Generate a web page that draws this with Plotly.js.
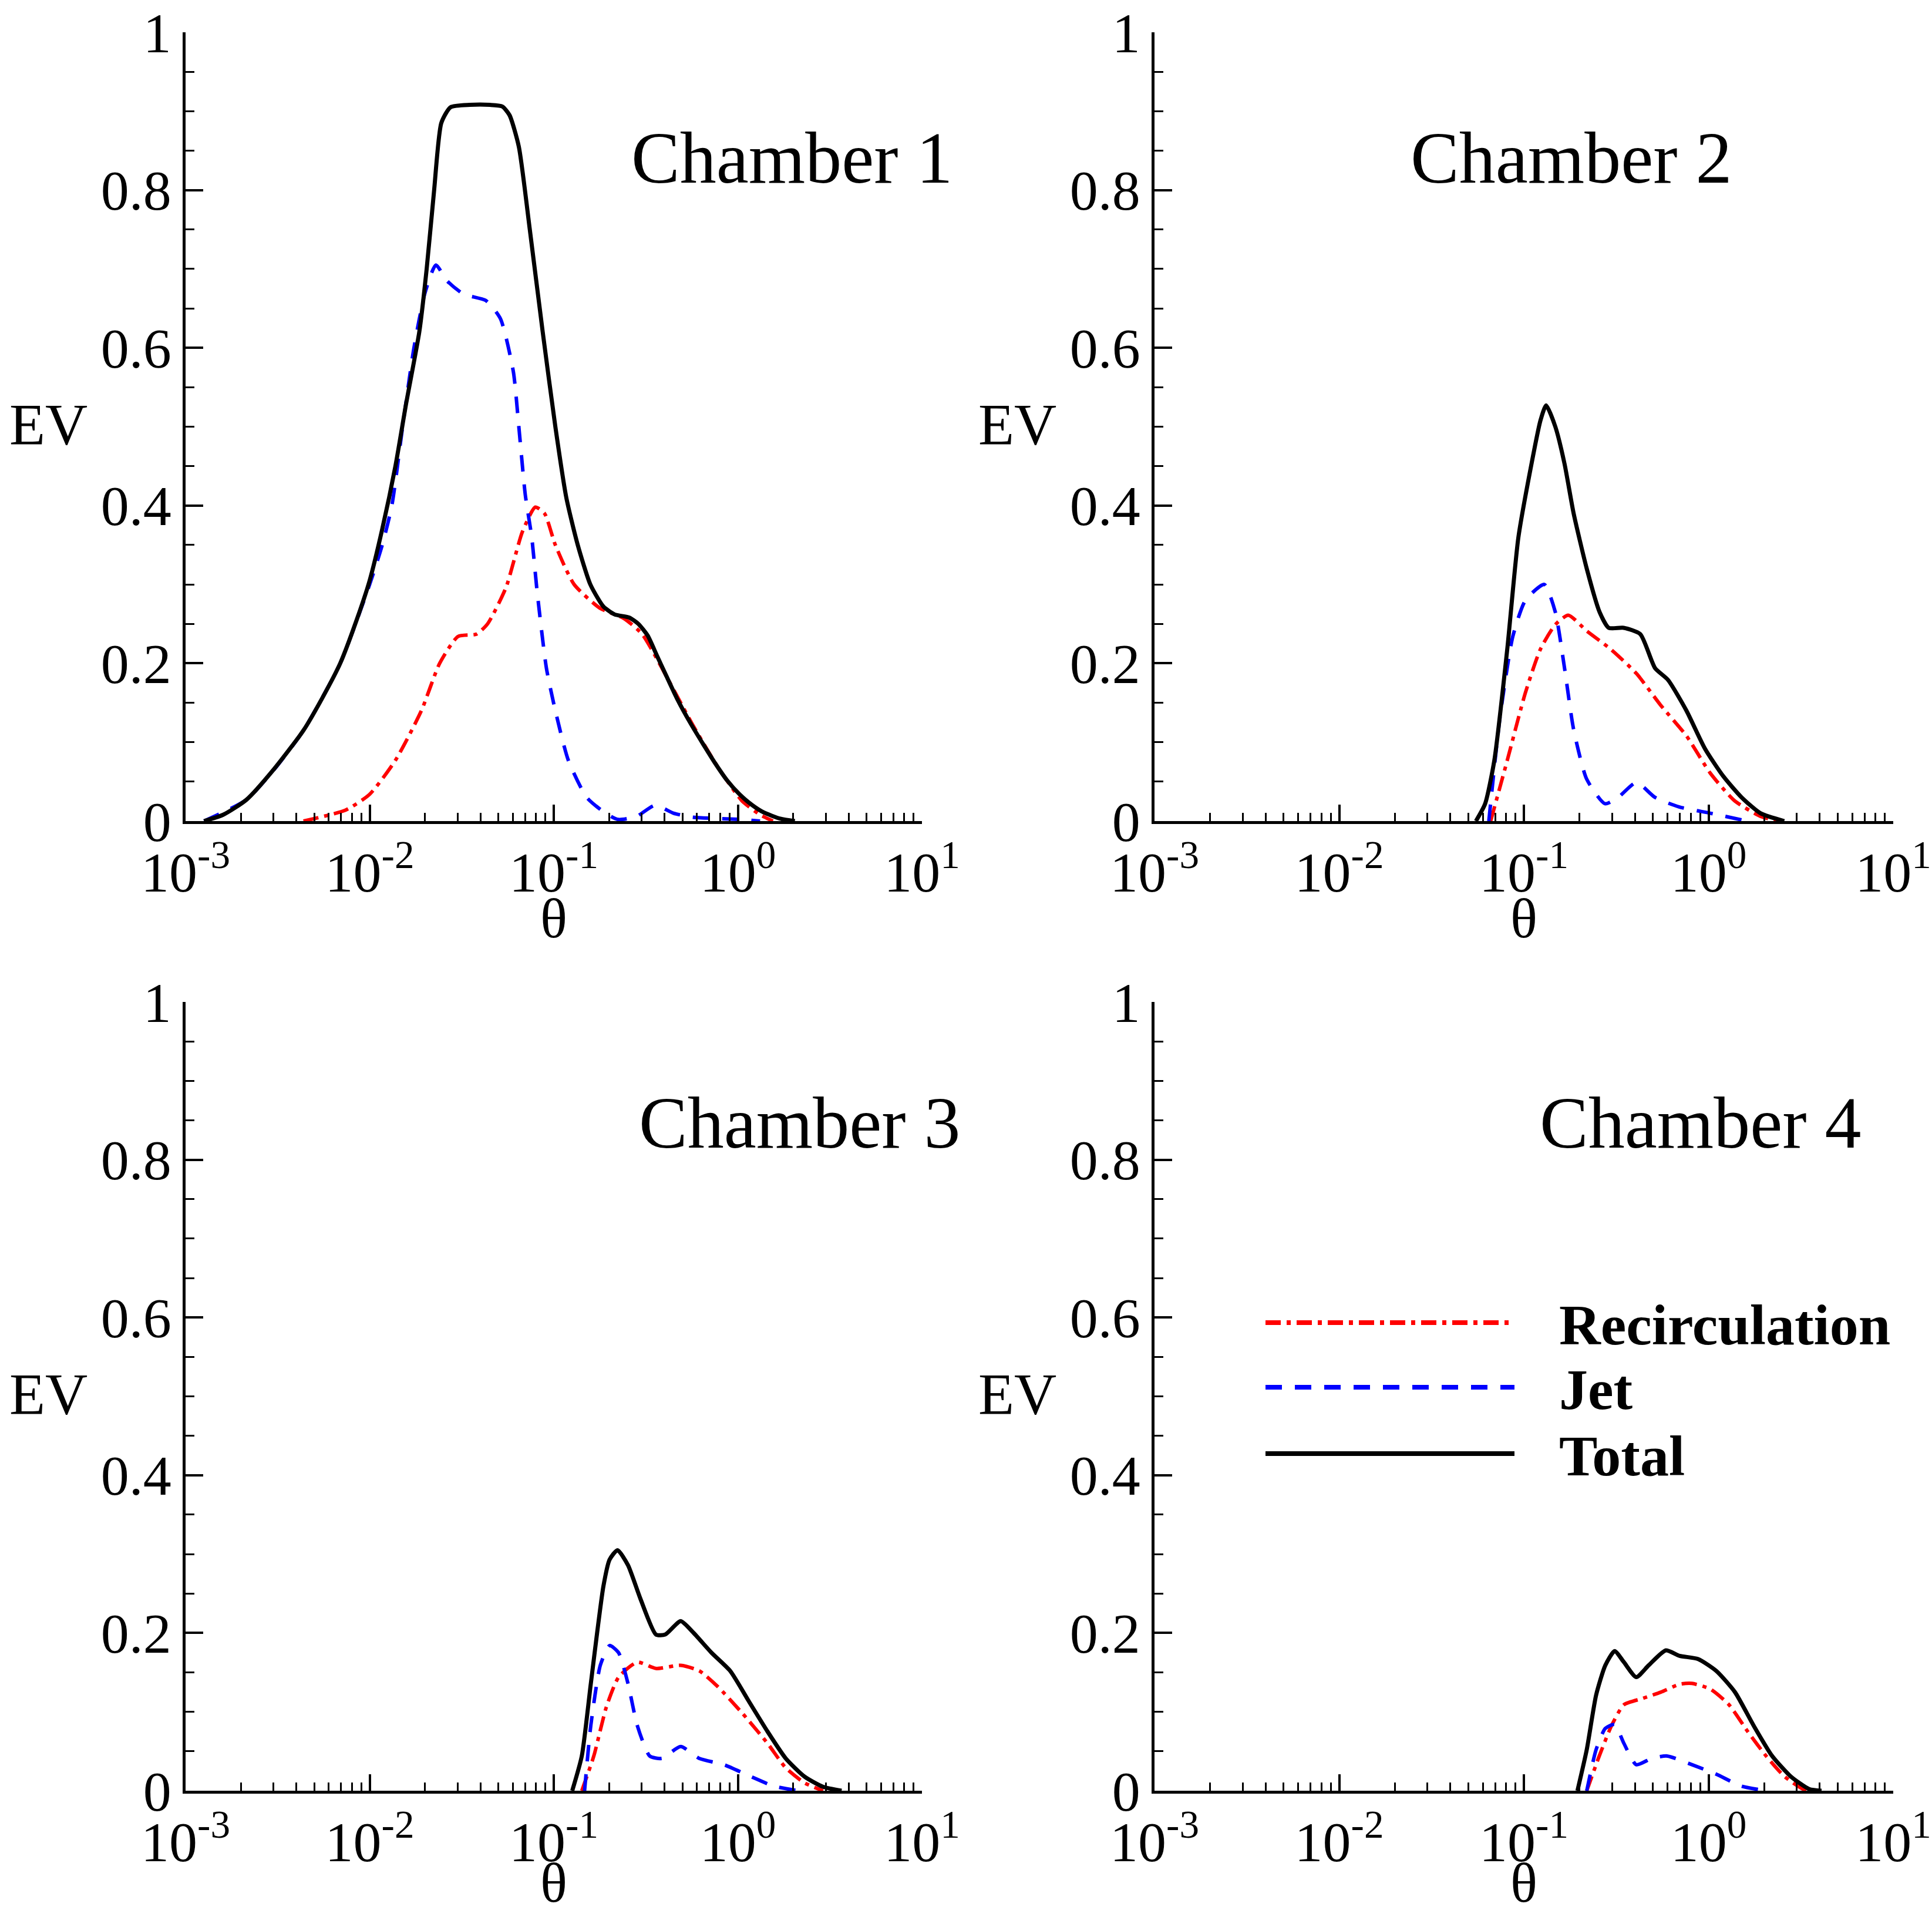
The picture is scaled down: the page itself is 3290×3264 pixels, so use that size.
<!DOCTYPE html>
<html>
<head>
<meta charset="utf-8">
<script src="https://cdn.plot.ly/plotly-3.0.1.min.js"></script>
<style>
  html, body { margin: 0; padding: 0; background: #fff; }
  #chart { width: 3290px; height: 3264px; }
</style>
</head>
<body>
<div id="chart"></div>
<script>
// ---- data (theta, EV) ----
const ch1TotalTheta = [0.00126, 0.0016, 0.00214, 0.003, 0.00437, 0.0055, 0.00692, 0.0085, 0.0100, 0.0117, 0.0138, 0.0158, 0.0186, 0.0204, 0.0224, 0.0245, 0.0275, 0.035, 0.045, 0.0525, 0.0575, 0.0646, 0.0741, 0.0871, 0.102, 0.117, 0.135, 0.158, 0.186, 0.214, 0.257, 0.288, 0.324, 0.363, 0.407, 0.468, 0.550, 0.646, 0.759, 0.871, 1.02, 1.20, 1.38, 1.70, 2.04];
const ch1TotalEV    = [0, 0.008, 0.027, 0.065, 0.115, 0.155, 0.20, 0.255, 0.305, 0.37, 0.45, 0.53, 0.62, 0.70, 0.80, 0.885, 0.905, 0.908, 0.908, 0.906, 0.895, 0.855, 0.75, 0.62, 0.50, 0.41, 0.35, 0.30, 0.272, 0.262, 0.258, 0.25, 0.235, 0.21, 0.185, 0.155, 0.125, 0.098, 0.072, 0.052, 0.034, 0.02, 0.011, 0.003, 0];

const ch1JetTheta = [0.00126, 0.00214, 0.00302, 0.00437, 0.00692, 0.0100, 0.0117, 0.0132, 0.0151, 0.0174, 0.0200, 0.0229, 0.0263, 0.0324, 0.0427, 0.0513, 0.0603, 0.0646, 0.0700, 0.0759, 0.0813, 0.0912, 0.102, 0.120, 0.151, 0.191, 0.224, 0.282, 0.355, 0.447, 0.562, 1.05, 1.32];
const ch1JetEV    = [0, 0.027, 0.065, 0.115, 0.20, 0.30, 0.35, 0.40, 0.50, 0.60, 0.67, 0.705, 0.685, 0.668, 0.66, 0.637, 0.57, 0.50, 0.414, 0.36, 0.29, 0.194, 0.14, 0.077, 0.03, 0.01, 0.002, 0.006, 0.02, 0.01, 0.005, 0.002, 0];

const ch1RecTheta = [0.00437, 0.00741, 0.0100, 0.0138, 0.0191, 0.0240, 0.0302, 0.0380, 0.0437, 0.0550, 0.0676, 0.0794, 0.0891, 0.102, 0.129, 0.178, 0.240, 0.302, 0.417, 0.562, 0.776, 1.05, 1.32, 1.55];
const ch1RecEV    = [0, 0.014, 0.034, 0.077, 0.14, 0.20, 0.234, 0.237, 0.25, 0.296, 0.367, 0.398, 0.39, 0.35, 0.30, 0.27, 0.257, 0.237, 0.18, 0.124, 0.069, 0.026, 0.008, 0];

const ch2TotalTheta = [0.055, 0.0617, 0.0692, 0.0813, 0.0933, 0.110, 0.123, 0.132, 0.148, 0.166, 0.186, 0.219, 0.257, 0.288, 0.347, 0.427, 0.513, 0.603, 0.759, 0.955, 1.20, 1.51, 1.91, 2.57];
const ch2TotalEV    = [0, 0.022, 0.077, 0.218, 0.359, 0.453, 0.508, 0.527, 0.50, 0.453, 0.39, 0.32, 0.265, 0.245, 0.245, 0.237, 0.194, 0.179, 0.14, 0.092, 0.057, 0.03, 0.01, 0];

const ch2JetTheta = [0.0646, 0.0741, 0.0871, 0.102, 0.129, 0.148, 0.166, 0.186, 0.219, 0.275, 0.324, 0.407, 0.513, 0.692, 1.02, 1.62];
const ch2JetEV    = [0, 0.13, 0.234, 0.28, 0.30, 0.265, 0.194, 0.116, 0.053, 0.022, 0.03, 0.049, 0.03, 0.018, 0.01, 0];

const ch2RecTheta = [0.0661, 0.0813, 0.102, 0.123, 0.148, 0.174, 0.219, 0.295, 0.407, 0.550, 0.759, 1.02, 1.38, 1.91, 2.40];
const ch2RecEV    = [0, 0.077, 0.163, 0.218, 0.249, 0.261, 0.241, 0.218, 0.187, 0.147, 0.108, 0.061, 0.026, 0.006, 0];

const ch3TotalTheta = [0.126, 0.142, 0.159, 0.186, 0.201, 0.222, 0.253, 0.296, 0.359, 0.403, 0.489, 0.570, 0.719, 0.908, 1.15, 1.45, 1.82, 2.30, 2.90, 3.66];
const ch3TotalEV    = [0, 0.044, 0.136, 0.259, 0.293, 0.305, 0.286, 0.243, 0.198, 0.198, 0.215, 0.201, 0.175, 0.152, 0.113, 0.075, 0.041, 0.018, 0.005, 0];

const ch3JetTheta = [0.147, 0.159, 0.179, 0.201, 0.225, 0.253, 0.284, 0.332, 0.387, 0.489, 0.617, 0.840, 1.15, 1.56, 2.13];
const ch3JetEV    = [0, 0.083, 0.159, 0.184, 0.175, 0.136, 0.083, 0.044, 0.041, 0.056, 0.041, 0.033, 0.019, 0.006, 0];

const ch3RecTheta = [0.142, 0.165, 0.193, 0.225, 0.284, 0.359, 0.489, 0.617, 0.778, 1.06, 1.45, 1.82, 2.30, 2.90];
const ch3RecEV    = [0, 0.044, 0.106, 0.144, 0.163, 0.155, 0.159, 0.152, 0.132, 0.098, 0.060, 0.029, 0.01, 0];

const ch4TotalTheta = [0.195, 0.219, 0.246, 0.276, 0.310, 0.348, 0.406, 0.474, 0.587, 0.697, 0.877, 1.10, 1.39, 1.75, 2.21, 2.79, 3.51, 4.09];
const ch4TotalEV    = [0, 0.052, 0.121, 0.159, 0.177, 0.163, 0.144, 0.159, 0.178, 0.171, 0.167, 0.152, 0.125, 0.083, 0.044, 0.018, 0.002, 0];

const ch4JetTheta = [0.219, 0.246, 0.276, 0.310, 0.348, 0.406, 0.492, 0.597, 0.813, 1.10, 1.50, 2.05];
const ch4JetEV    = [0, 0.052, 0.079, 0.084, 0.060, 0.033, 0.041, 0.044, 0.033, 0.021, 0.006, 0];

const ch4RecTheta = [0.219, 0.256, 0.299, 0.348, 0.439, 0.552, 0.697, 0.813, 1.02, 1.29, 1.63, 2.05, 2.58, 3.25, 3.51];
const ch4RecEV    = [0, 0.044, 0.083, 0.109, 0.117, 0.125, 0.135, 0.136, 0.129, 0.109, 0.075, 0.044, 0.018, 0.002, 0];

const chamberNames = ['Chamber 1', 'Chamber 2', 'Chamber 3', 'Chamber 4'];
const seriesNames = ['Recirculation', 'Jet', 'Total'];
const xTickVals = [0.001, 0.01, 0.1, 1, 10];
const xTickText = ['10<sup>-3</sup>', '10<sup>-2</sup>', '10<sup>-1</sup>', '10<sup>0</sup>', '10<sup>1</sup>'];
const yTickVals = [0, 0.2, 0.4, 0.6, 0.8, 1];
const yTickText = ['0', '0.2', '0.4', '0.6', '0.8', '1'];
const xMinorVals = [0.002, 0.003, 0.004, 0.005, 0.006, 0.007, 0.008, 0.009,
                    0.02, 0.03, 0.04, 0.05, 0.06, 0.07, 0.08, 0.09,
                    0.2, 0.3, 0.4, 0.5, 0.6, 0.7, 0.8, 0.9,
                    2, 3, 4, 5, 6, 7, 8, 9];

// ---- styles ----
const FONT = 'Liberation Serif, Times New Roman, serif';
const STYLE = {
    Recirculation: { color: '#ff0000', width: 6, dash: '26px,10px,7px,10px' },
    Jet:           { color: '#0000ff', width: 6, dash: '28px,22px' },
    Total:         { color: '#000000', width: 7, dash: 'solid' }
};

const chambers = [
    { rec: [ch1RecTheta, ch1RecEV], jet: [ch1JetTheta, ch1JetEV], tot: [ch1TotalTheta, ch1TotalEV] },
    { rec: [ch2RecTheta, ch2RecEV], jet: [ch2JetTheta, ch2JetEV], tot: [ch2TotalTheta, ch2TotalEV] },
    { rec: [ch3RecTheta, ch3RecEV], jet: [ch3JetTheta, ch3JetEV], tot: [ch3TotalTheta, ch3TotalEV] },
    { rec: [ch4RecTheta, ch4RecEV], jet: [ch4JetTheta, ch4JetEV], tot: [ch4TotalTheta, ch4TotalEV] }
];

// plot-area domains measured in px on the 3290x3264 picture
const W = 3290, H = 3264;
const colX = [[316, 1570], [1966, 3224]];
const rowY = [[55, 1398], [1706, 3049]];

const traces = [];
const layout = {
    width: W, height: H,
    margin: { l: 0, r: 0, t: 0, b: 0 },
    paper_bgcolor: '#fff', plot_bgcolor: '#fff',
    font: { family: FONT, color: '#000', size: 96 },
    showlegend: false,
    annotations: [],
    shapes: []
};

chambers.forEach((c, i) => {
    const n = i + 1;
    const xa = n === 1 ? 'x' : 'x' + n;
    const ya = n === 1 ? 'y' : 'y' + n;
    const col = colX[i % 2], row = rowY[Math.floor(i / 2)];

    [['Recirculation', c.rec], ['Jet', c.jet], ['Total', c.tot]].forEach(([name, d]) => {
        traces.push({
            x: d[0], y: d[1], name: name, xaxis: xa, yaxis: ya,
            type: 'scatter', mode: 'lines',
            line: { ...STYLE[name], shape: 'spline', smoothing: 0.6 },
            hoverinfo: 'skip'
        });
    });

    layout['xaxis' + (n === 1 ? '' : n)] = {
        type: 'log', range: [-3, 1], domain: [col[0] / W, col[1] / W], anchor: ya,
        showline: true, linewidth: 5, linecolor: '#000', mirror: false,
        showgrid: false, zeroline: false,
        ticks: 'inside', ticklen: 28, tickwidth: 4, tickcolor: '#000',
        tickmode: 'array', tickvals: xTickVals, ticktext: xTickText,
        tickfont: { family: FONT, size: 96, color: '#000' },
        minor: { ticks: 'inside', ticklen: 14, tickwidth: 3, tickcolor: '#000', tickmode: 'array', tickvals: xMinorVals, showgrid: false },
        fixedrange: true
    };
    layout['yaxis' + (n === 1 ? '' : n)] = {
        range: [0, 1], domain: [1 - row[1] / H, 1 - row[0] / H], anchor: xa,
        showline: true, linewidth: 5, linecolor: '#000', mirror: false,
        showgrid: false, zeroline: false,
        ticks: 'inside', ticklen: 30, tickwidth: 4, tickcolor: '#000',
        tickmode: 'array', tickvals: yTickVals, ticktext: yTickText,
        tickfont: { family: FONT, size: 96, color: '#000' },
        minor: { ticks: 'inside', ticklen: 15, tickwidth: 3, tickcolor: '#000', dtick: 0.05, tick0: 0, showgrid: false },
        fixedrange: true
    };

    // axis labels (horizontal EV, theta) and chamber name
    layout.annotations.push(
        { text: 'EV', xref: xa + ' domain', yref: ya + ' domain', x: 0, y: 0.5, xshift: -234, yshift: 4,
          showarrow: false, xanchor: 'center', yanchor: 'middle', font: { family: FONT, size: 100 } },
        { text: 'θ', xref: xa + ' domain', yref: ya + ' domain', x: 0.5, y: 0, yshift: i < 2 ? -166 : -156,
          showarrow: false, xanchor: 'center', yanchor: 'middle', font: { family: FONT, size: 96 } },
        { text: chamberNames[i], xref: xa + ' domain', yref: ya + ' domain',
          x: [0.824, 0.564, 0.834, 0.739][i], y: [0.84, 0.84, 0.846, 0.846][i],
          showarrow: false, xanchor: 'center', yanchor: 'middle', font: { family: FONT, size: 124 } }
    );
});

// legend drawn inside chamber 4, long line samples like the original
const legendRowsY = [2252, 2362, 2475];
seriesNames.forEach((name, k) => {
    const yp = 1 - legendRowsY[k] / H;
    layout.shapes.push({
        type: 'line', xref: 'paper', yref: 'paper', x0: 2155 / W, x1: 2579 / W, y0: yp, y1: yp,
        line: { color: STYLE[name].color, width: 8, dash: STYLE[name].dash }
    });
    layout.annotations.push({
        text: '<b>' + name + '</b>', xref: 'paper', yref: 'paper', x: 2653 / W, y: yp,
        yshift: -4, showarrow: false, xanchor: 'left', yanchor: 'middle', font: { family: FONT, size: 98 }
    });
});

Plotly.newPlot('chart', traces, layout, { displayModeBar: false, staticPlot: true });
</script>
</body>
</html>
